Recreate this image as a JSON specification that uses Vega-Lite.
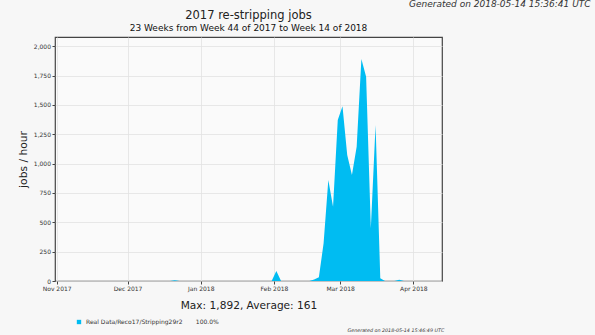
{
  "$schema": "https://vega.github.io/schema/vega-lite/v6.json",
  "width": 387,
  "height": 244,
  "autosize": "none",
  "padding": {"left": 55, "top": 37, "right": 153, "bottom": 54},
  "background": "#f7f7f7",
  "title": {
    "text": "2017 re-stripping jobs",
    "subtitle": "23 Weeks from Week 44 of 2017 to Week 14 of 2018",
    "font": "DejaVu Sans",
    "subtitleFont": "DejaVu Sans",
    "fontSize": 11.5,
    "subtitleFontSize": 9,
    "fontWeight": "normal",
    "subtitleFontWeight": "normal",
    "color": "#222222",
    "subtitleColor": "#111111",
    "anchor": "middle",
    "frame": "group",
    "offset": 3,
    "dy": 36,
    "subtitlePadding": 3
  },
  "config": {
    "font": "DejaVu Sans",
    "view": {"stroke": "#444444", "strokeWidth": 1.2, "fill": "#fafafa"},
    "axis": {
      "labelFont": "DejaVu Sans",
      "titleFont": "DejaVu Sans",
      "labelFontSize": 6,
      "labelColor": "#333333",
      "tickColor": "#444444",
      "tickSize": 3,
      "labelPadding": 1.5,
      "labelOverlap": false,
      "domain": false,
      "gridColor": "#e2e2e2",
      "gridWidth": 0.8,
      "titleFontWeight": "normal",
      "titleColor": "#222222"
    },
    "legend": {"labelFont": "DejaVu Sans"}
  },
  "datasets": {
    "jobs": [
      {"date": "2017-11-01T00:00:00", "value": 0, "series": "Real Data/Reco17/Stripping29r2"},
      {"date": "2017-12-19T00:00:00", "value": 0, "series": "Real Data/Reco17/Stripping29r2"},
      {"date": "2017-12-21T00:00:00", "value": 6, "series": "Real Data/Reco17/Stripping29r2"},
      {"date": "2017-12-23T00:00:00", "value": 0, "series": "Real Data/Reco17/Stripping29r2"},
      {"date": "2018-01-31T00:00:00", "value": 0, "series": "Real Data/Reco17/Stripping29r2"},
      {"date": "2018-02-02T00:00:00", "value": 85, "series": "Real Data/Reco17/Stripping29r2"},
      {"date": "2018-02-04T00:00:00", "value": 0, "series": "Real Data/Reco17/Stripping29r2"},
      {"date": "2018-02-16T00:00:00", "value": 0, "series": "Real Data/Reco17/Stripping29r2"},
      {"date": "2018-02-18T00:00:00", "value": 12, "series": "Real Data/Reco17/Stripping29r2"},
      {"date": "2018-02-20T00:00:00", "value": 31, "series": "Real Data/Reco17/Stripping29r2"},
      {"date": "2018-02-22T00:00:00", "value": 321, "series": "Real Data/Reco17/Stripping29r2"},
      {"date": "2018-02-24T00:00:00", "value": 860, "series": "Real Data/Reco17/Stripping29r2"},
      {"date": "2018-02-26T00:00:00", "value": 633, "series": "Real Data/Reco17/Stripping29r2"},
      {"date": "2018-02-28T00:00:00", "value": 1372, "series": "Real Data/Reco17/Stripping29r2"},
      {"date": "2018-03-02T00:00:00", "value": 1490, "series": "Real Data/Reco17/Stripping29r2"},
      {"date": "2018-03-04T00:00:00", "value": 1074, "series": "Real Data/Reco17/Stripping29r2"},
      {"date": "2018-03-06T00:00:00", "value": 903, "series": "Real Data/Reco17/Stripping29r2"},
      {"date": "2018-03-08T00:00:00", "value": 1144, "series": "Real Data/Reco17/Stripping29r2"},
      {"date": "2018-03-10T00:00:00", "value": 1892, "series": "Real Data/Reco17/Stripping29r2"},
      {"date": "2018-03-12T00:00:00", "value": 1741, "series": "Real Data/Reco17/Stripping29r2"},
      {"date": "2018-03-14T00:00:00", "value": 450, "series": "Real Data/Reco17/Stripping29r2"},
      {"date": "2018-03-16T00:00:00", "value": 1329, "series": "Real Data/Reco17/Stripping29r2"},
      {"date": "2018-03-18T00:00:00", "value": 23, "series": "Real Data/Reco17/Stripping29r2"},
      {"date": "2018-03-20T00:00:00", "value": 0, "series": "Real Data/Reco17/Stripping29r2"},
      {"date": "2018-03-24T00:00:00", "value": 0, "series": "Real Data/Reco17/Stripping29r2"},
      {"date": "2018-03-26T00:00:00", "value": 10, "series": "Real Data/Reco17/Stripping29r2"},
      {"date": "2018-03-28T00:00:00", "value": 0, "series": "Real Data/Reco17/Stripping29r2"},
      {"date": "2018-04-08T00:00:00", "value": 0, "series": "Real Data/Reco17/Stripping29r2"}
    ]
  },
  "layer": [
    {
      "data": {"name": "jobs"},
      "mark": {"type": "area", "interpolate": "linear", "opacity": 1},
      "encoding": {
        "x": {
          "field": "date",
          "type": "temporal",
          "scale": {"domain": [{"year": 2017, "month": 10, "date": 31, "hours": 7}, {"year": 2018, "month": 4, "date": 13, "hours": 3}]},
          "axis": {
            "format": "%b %Y",
            "tickCount": {"interval": "month", "step": 1},
            "title": "Max: 1,892, Average: 161",
            "titleFontSize": 10.6,
            "titlePadding": 9,
            "labelFlush": false
          }
        },
        "y": {
          "field": "value",
          "type": "quantitative",
          "scale": {"domain": [0, 2079], "nice": false},
          "axis": {
            "values": [0, 250, 500, 750, 1000, 1250, 1500, 1750, 2000],
            "format": ",d",
            "title": "jobs / hour",
            "titleFontSize": 10.7,
            "titlePadding": 5
          }
        },
        "color": {
          "field": "series",
          "type": "nominal",
          "scale": {"range": ["#00bcf2"]},
          "legend": {
            "title": null,
            "orient": "none",
            "legendX": 21,
            "legendY": 282,
            "padding": 0,
            "symbolType": "square",
            "symbolSize": 19,
            "symbolStrokeWidth": 0,
            "labelFontSize": 6,
            "labelColor": "#333333",
            "labelOffset": 4,
            "labelExpr": "datum.label + '\u00a0\u00a0\u00a0\u00a0\u00a0\u00a0\u00a0100.0%'"
          }
        }
      }
    },
    {
      "data": {"values": [{}]},
      "mark": {"type": "text", "text": "Generated on 2018-05-14 15:36:41 UTC", "align": "right", "baseline": "middle", "fontSize": 9, "fontStyle": "italic", "color": "#333333"},
      "encoding": {
        "x": {
          "datum": {"year": 2018, "month": 6, "date": 15},
          "type": "temporal",
          "axis": {
            "format": "%b %Y",
            "tickCount": {"interval": "month", "step": 1},
            "title": "Max: 1,892, Average: 161",
            "titleFontSize": 10.6,
            "titlePadding": 9,
            "labelFlush": false
          }
        },
        "y": {
          "datum": 2356,
          "type": "quantitative",
          "axis": {
            "values": [0, 250, 500, 750, 1000, 1250, 1500, 1750, 2000],
            "format": ",d",
            "title": "jobs / hour",
            "titleFontSize": 10.7,
            "titlePadding": 5
          }
        }
      }
    },
    {
      "data": {"values": [{}]},
      "mark": {"type": "text", "text": "Generated on 2018-05-14 15:46:49 UTC", "align": "right", "baseline": "middle", "fontSize": 4.8, "fontStyle": "italic", "color": "#333333"},
      "encoding": {
        "x": {
          "datum": {"year": 2018, "month": 4, "date": 14, "hours": 2},
          "type": "temporal",
          "axis": {
            "format": "%b %Y",
            "tickCount": {"interval": "month", "step": 1},
            "title": "Max: 1,892, Average: 161",
            "titleFontSize": 10.6,
            "titlePadding": 9,
            "labelFlush": false
          }
        },
        "y": {
          "datum": -426,
          "type": "quantitative",
          "axis": {
            "values": [0, 250, 500, 750, 1000, 1250, 1500, 1750, 2000],
            "format": ",d",
            "title": "jobs / hour",
            "titleFontSize": 10.7,
            "titlePadding": 5
          }
        }
      }
    }
  ]
}
